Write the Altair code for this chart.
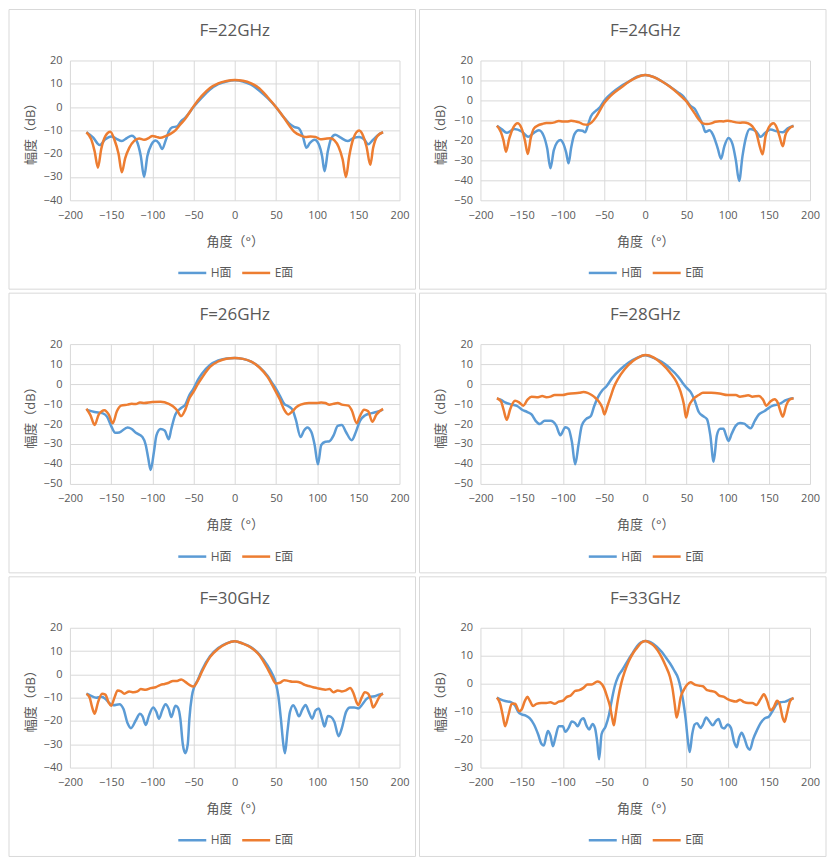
import altair as alt
import pandas as pd

FONT = "'Open Sans', 'Noto Sans CJK SC'"
TEXT = "#595959"
GRID = "#D9D9D9"
SERIES = ["H面", "E面"]
COLORS = ["#5B9BD5", "#ED7D31"]
X_TICKS = [-200, -150, -100, -50, 0, 50, 100, 150, 200]
X_TITLE = "角度（°）"
Y_TITLE = "幅度（dB）"

# ---------------- F=22GHz ----------------
H22 = [(-180, -10.8), (-172, -13), (-164, -16.3), (-157, -13.8), (-150, -12.6), (-144, -13.5),
       (-137, -14.6), (-131, -13.3), (-125, -12.3), (-119, -14.5), (-114, -21), (-110, -30),
       (-106, -21), (-101, -16), (-96, -14.3), (-92, -15.5), (-88, -18), (-84, -14.5), (-80, -10.5),
       (-76, -8.7), (-70, -8.3), (-65, -6), (-60, -4.5), (-50, 0), (-40, 4), (-30, 7.5), (-20, 9.8),
       (-10, 11), (0, 11.5), (10, 11), (20, 9.6), (30, 7), (40, 3.8), (50, 0), (60, -4.6), (66, -7),
       (72, -8.5), (78, -9.2), (83, -13), (87, -17.5), (91, -15.5), (97, -14), (102, -16), (106, -21),
       (109, -27.5), (113, -19), (117, -13.5), (122, -11.9), (128, -13), (137, -14.6), (144, -13.3),
       (151, -12.8), (157, -13.8), (162, -16), (168, -14), (174, -12), (180, -10.8)]
E22 = [(-180, -10.8), (-174, -14), (-170, -19), (-166, -26), (-162, -18), (-157, -12.5), (-151, -10.6),
       (-146, -14), (-141, -20), (-137, -28), (-133, -22), (-128, -17.5), (-122, -14.5), (-116, -13.5),
       (-110, -14), (-104, -13.2), (-100, -12.4), (-95, -12.8), (-90, -13.2), (-84, -12.5), (-78, -11.5),
       (-72, -10), (-66, -7.5), (-60, -5), (-50, 0.3), (-40, 4.8), (-30, 8.2), (-20, 10.2), (-10, 11.2),
       (0, 11.6), (10, 11.3), (20, 10.2), (30, 8), (40, 4.2), (50, 0), (60, -4.7), (66, -7.8), (72, -10.5),
       (80, -12.2), (86, -12.8), (92, -12.6), (98, -12.8), (104, -13.8), (110, -13.6), (116, -13.4),
       (121, -14.3), (126, -17), (131, -22.5), (135, -30), (139, -21), (144, -13.5), (151, -10.1),
       (156, -12.5), (160, -17), (164.5, -24.8), (168, -17.5), (173, -12.5), (180, -10.8)]

# ---------------- F=24GHz ----------------
H24 = [(-180, -12.7), (-174, -14.5), (-168, -16.2), (-159, -14.3), (-150, -15.5), (-142, -18.2),
       (-136, -16.5), (-129, -15), (-123, -18), (-119, -24), (-115, -34), (-111, -25), (-107, -21),
       (-103, -19.8), (-99, -22), (-96, -26), (-93, -31.5), (-90, -24), (-86, -17), (-81, -15),
       (-76, -15.2), (-73, -16), (-70, -13), (-66, -8), (-60, -5.2), (-55, -3.5), (-50, -0.3), (-45, 2),
       (-40, 3.9), (-30, 7), (-20, 9.4), (-10, 11.9), (0, 12.7), (10, 11.8), (20, 9.6), (30, 7), (40, 4),
       (45, 2.5), (50, 0), (55, -2.8), (60, -4.2), (65, -8), (70, -12.5), (73, -15.8), (78, -15),
       (82, -17), (88, -24), (92, -29.2), (96, -23), (101, -18.8), (106, -22), (110, -30), (114, -40.3),
       (118, -28), (122, -19), (127, -14.3), (134, -15.3), (140, -18.2), (145, -16.5), (152, -14.6),
       (160, -15.5), (167, -16), (173, -14), (180, -12.7)]
E24 = [(-180, -12.7), (-175, -16), (-172, -20), (-169, -25.7), (-165, -19), (-160, -13.5), (-155, -11.4),
       (-150, -14), (-146, -20), (-142.5, -26.8), (-139, -19), (-135, -14), (-130, -12.5), (-125, -11.8),
       (-120, -11.3), (-115, -11.3), (-110, -11), (-105, -10.3), (-100, -10.6), (-95, -10.6), (-90, -10.2),
       (-85, -10.5), (-80, -11), (-75, -12), (-70, -12.2), (-65, -11), (-60, -8.5), (-55, -5), (-50, -1.5),
       (-45, 1), (-40, 3), (-30, 6.2), (-20, 9.3), (-10, 11.6), (0, 12.7), (10, 11.7), (20, 9.6), (30, 6.8),
       (40, 3.4), (45, 1.5), (50, -0.5), (55, -3.5), (60, -6.5), (65, -9.5), (70, -11.5), (75, -11.8),
       (80, -11.5), (85, -10.7), (90, -10.4), (95, -10.5), (100, -10.2), (105, -10.5), (110, -11),
       (115, -11.2), (120, -11), (125, -11.5), (130, -13), (135, -16.5), (139, -23), (142.5, -27),
       (146, -18), (150, -13.5), (155.5, -11.4), (160, -14), (163, -18), (167, -23), (170, -17.5),
       (175, -14), (180, -12.8)]

# ---------------- F=26GHz ----------------
H26 = [(-180, -12.8), (-170, -14), (-160, -14.7), (-155, -16.3), (-150, -20.9), (-145, -24.4),
       (-140, -24.2), (-130, -21.7), (-125, -22.5), (-120, -24.4), (-112, -26.5), (-108, -30.5),
       (-105, -37), (-102, -43), (-98, -33.8), (-95, -25.7), (-90, -22.5), (-85, -23.3), (-80, -27.6),
       (-77, -22.5), (-72, -15.2), (-65, -12), (-60, -10.3), (-55, -5.5), (-50, -2.3), (-45, 1.8),
       (-40, 5), (-30, 9.5), (-20, 11.8), (-10, 12.8), (0, 13.1), (10, 12.6), (20, 11.2), (30, 8.5),
       (40, 4), (45, 0.8), (50, -2.3), (55, -6), (60, -9.9), (65, -11.1), (70, -12.8), (74, -17.6),
       (80, -26.5), (84, -23.3), (88, -21.7), (93, -24), (97, -30.5), (101, -40.2), (105, -30.5),
       (110, -28.9), (115, -28.6), (120, -25.7), (125, -20.9), (130, -20.5), (135, -24), (142, -28.1),
       (147, -24), (152, -18.4), (158, -15.7), (165, -14.7), (172, -14), (180, -12.8)]
E26 = [(-180, -12.4), (-175, -15.7), (-170, -20.5), (-165, -15.2), (-158, -13.1), (-153, -15.2),
       (-148, -19.6), (-143, -13.6), (-138, -10.8), (-130, -10.3), (-125, -9.9), (-120, -10), (-115, -9.2),
       (-110, -9.5), (-100, -9), (-90, -8.9), (-80, -9.9), (-75, -11.1), (-70, -13.1), (-65, -16),
       (-60, -12.8), (-55, -7.1), (-50, -3.9), (-45, -0.2), (-40, 3), (-30, 8.6), (-20, 11.3), (-10, 12.7),
       (0, 13), (10, 12.6), (20, 11.2), (30, 8.3), (40, 3.5), (45, 0), (50, -3.9), (55, -7.9), (60, -12.8),
       (65, -15.2), (70, -13.6), (75, -11.5), (80, -10.3), (90, -9.5), (100, -9.5), (105, -9.2),
       (110, -9.5), (115, -10.3), (120, -9.9), (125, -9.5), (130, -10.3), (138, -10.8), (142, -13.1),
       (148, -19.6), (152, -16), (157, -12.8), (162, -13.6), (167, -18.9), (172, -15.2), (180, -12.4)]

# ---------------- F=28GHz ----------------
H28 = [(-180, -7.3), (-175, -7.9), (-170, -9.2), (-162, -10.3), (-155, -11.1), (-150, -12.7), (-143, -14),
       (-138, -15.2), (-133, -18.4), (-128, -20), (-122, -18.4), (-115, -18.4), (-108, -20.8),
       (-103, -25.6), (-97, -21.6), (-93, -22.4), (-89, -28.9), (-85, -40.2), (-81, -30.5), (-77, -20.8),
       (-72, -17.6), (-66, -16), (-62, -11.1), (-57, -6.3), (-52, -3.1), (-47, -1.1), (-40, 3.1),
       (-30, 7.4), (-20, 10.8), (-10, 13.1), (0, 14.4), (10, 13.1), (20, 11.1), (30, 7.9), (40, 3.7),
       (45, 0.8), (50, -1.8), (55, -3.9), (60, -8.2), (65, -14), (70, -16), (75, -17.6), (79, -25.6),
       (83, -38.9), (87, -25.6), (91, -22.4), (95, -22.4), (98, -25.6), (101, -28.5), (105, -24.8),
       (110, -20.8), (115, -19.5), (120, -19.8), (124, -21.1), (128, -22.1), (133, -18.4), (138, -15.2),
       (145, -13.5), (150, -11.9), (155, -10.8), (160, -10.3), (165, -9.5), (170, -8.2), (175, -7.4),
       (180, -7.1)]
E28 = [(-180, -7.1), (-175, -8.7), (-172, -12.7), (-168, -17.9), (-164, -12.7), (-158, -8.4), (-153, -9.2),
       (-148, -10.8), (-143, -7.9), (-138, -6.3), (-130, -6.6), (-125, -6), (-120, -6.6), (-115, -6.3),
       (-110, -5.5), (-100, -5.5), (-95, -5), (-90, -4.7), (-80, -4.4), (-75, -4), (-70, -4.4), (-65, -5.5),
       (-60, -7.1), (-55, -9.5), (-52, -11.9), (-49.5, -15.2), (-46, -11.1), (-42, -6.3), (-38, -1.5),
       (-33, 2.6), (-25, 7.4), (-15, 11.5), (-8, 13.4), (0, 14.5), (10, 13.4), (20, 10.2), (30, 5.8),
       (38, 1), (43, -3.9), (47, -10.3), (49.5, -16.8), (53, -11.1), (58, -7.6), (65, -5.5), (70, -4.4),
       (80, -4.4), (90, -4.7), (100, -5.5), (110, -5.5), (115, -6.3), (120, -6), (125, -5.6), (130, -6.3),
       (138, -6), (143, -7.9), (147, -10.8), (152, -8.7), (157, -7.6), (161, -9.5), (164, -13.5),
       (167, -16.3), (171, -10.8), (175, -7.9), (180, -7.1)]

# ---------------- F=30GHz ----------------
H30 = [(-180, -8.3), (-175, -9.1), (-168, -10), (-162, -9.6), (-157, -10.5), (-152, -12.4), (-147, -13.2),
       (-140, -12.8), (-135, -14.9), (-130, -21), (-126, -23.1), (-120, -19.7), (-115, -16.9),
       (-112, -17.9), (-108, -21.7), (-104, -17.6), (-99, -14.2), (-95, -16.2), (-92, -19), (-88, -15.5),
       (-84, -12.8), (-80, -14.9), (-77, -18.3), (-72, -13.5), (-69, -14.2), (-66, -19), (-63, -30),
       (-60, -33.8), (-57, -30), (-55, -19), (-52, -9.4), (-49, -5.2), (-45, -2.5), (-40, 1.7), (-30, 7.8),
       (-20, 11.3), (-10, 13.3), (0, 14.2), (10, 13.2), (20, 11.6), (30, 8.5), (40, 3.7), (45, 0.6),
       (50, -3.9), (53, -9.4), (56, -19), (59, -30), (61, -33.8), (64, -24.5), (67, -16.2), (71, -13.2),
       (74, -14.9), (78, -18), (82, -15.1), (86, -13.1), (90, -16.2), (94, -19), (98, -15.5), (102, -14.6),
       (106, -19), (109, -22.4), (113, -17.9), (117, -18.3), (121, -20.4), (126, -26.5), (130, -23.1),
       (135, -16.2), (140, -14.2), (145, -14.2), (150, -14.6), (155, -12.8), (160, -10.5), (165, -9.6),
       (170, -9.4), (175, -8.7), (180, -8.3)]
E30 = [(-180, -8.3), (-176, -10), (-173, -14.2), (-170, -16.9), (-166, -12.1), (-161, -8.3), (-157, -8.7),
       (-153, -12.1), (-150, -13.5), (-146, -10), (-142, -6.9), (-138, -7.3), (-134, -8.3), (-128, -7.3),
       (-123, -7.7), (-118, -7.3), (-114, -6.3), (-108, -6.6), (-102, -5.9), (-96, -5.5), (-90, -4.5),
       (-85, -4.1), (-80, -3.6), (-75, -2.8), (-70, -2.8), (-65, -2.2), (-60, -3.2), (-55, -4.5),
       (-50, -5.2), (-45, -2.8), (-40, 1), (-30, 7.4), (-20, 11), (-10, 13.2), (0, 14.2), (10, 13.2),
       (20, 11.4), (30, 8.2), (40, 2.3), (45, -1.1), (50, -3.9), (55, -3.6), (60, -2.5), (65, -2.8),
       (70, -3.2), (75, -3.2), (80, -3.6), (85, -4.5), (90, -5), (95, -5.5), (100, -5.9), (105, -6.3),
       (110, -6.6), (115, -6.3), (120, -7.7), (125, -6.9), (130, -7.3), (135, -6.9), (140, -5.9),
       (144, -8), (148, -12.1), (150, -13.2), (154, -10), (158, -7.7), (162, -8.3), (165, -10.7),
       (168, -14.2), (172, -12.1), (176, -9.4), (180, -8.3)]

# ---------------- F=33GHz ----------------
H33 = [(-180, -5), (-175, -5.7), (-170, -6.2), (-163, -6.6), (-158, -7.8), (-154, -10.1), (-150, -11),
       (-145, -11.4), (-140, -12.4), (-135, -14.6), (-130, -18.1), (-126, -21.5), (-123, -22.1),
       (-120, -18.6), (-118, -16.9), (-115, -18.6), (-112, -22.4), (-109, -19.2), (-105, -15.2),
       (-100, -15.2), (-97, -17.2), (-93, -15.8), (-89, -13.5), (-85, -14.1), (-82, -15.2), (-78, -13),
       (-75, -12.4), (-71, -15.2), (-68, -16.4), (-64, -14.4), (-61, -15.8), (-58, -21.5), (-56, -27),
       (-53, -18.1), (-48, -15.2), (-44, -11.2), (-40, -4.9), (-37, -0.9), (-33, 2.5), (-28, 4.8),
       (-20, 8.8), (-15, 11.1), (-10, 13.4), (-5, 14.8), (0, 15.3), (5, 15), (10, 14.2), (20, 11.4),
       (25, 9.4), (30, 7.3), (35, 4.8), (40, 1.9), (43, -1.5), (46, -6.1), (49, -12.4), (52, -20.9),
       (54, -24.4), (57, -18.1), (60, -14.6), (63, -14.1), (67, -15.8), (70, -14.6), (74, -12.1),
       (78, -13.5), (82, -14.9), (86, -13.3), (89, -12.6), (93, -15.6), (96, -16), (100, -14.6),
       (104, -15.8), (108, -20.9), (111, -22.7), (114, -19.2), (117, -17.5), (120, -19.2), (124, -22.7),
       (127, -23.6), (131, -19.8), (136, -16.4), (140, -14.1), (145, -12.4), (150, -11.8), (155, -9.5),
       (160, -7.2), (165, -6.6), (170, -6.4), (175, -5.7), (180, -5.3)]
E33 = [(-180, -5), (-176, -7.2), (-173, -11.2), (-170, -15.2), (-166, -11.2), (-162, -7.2), (-158, -7.2),
       (-153, -9.8), (-150, -9.2), (-146, -6.1), (-143, -4.7), (-140, -6.1), (-136, -8), (-132, -7.2),
       (-126, -6.9), (-120, -6.9), (-115, -6.6), (-110, -7.2), (-105, -6.4), (-100, -6.1), (-96, -4.9),
       (-90, -4.1), (-85, -2.6), (-80, -2.3), (-75, -1.5), (-70, -0.3), (-65, -0.3), (-58, 0.8),
       (-55, 0.5), (-50, -1.5), (-46, -4.9), (-43, -7.8), (-40, -12.4), (-38, -14.9), (-36, -11.2),
       (-33, -5.5), (-29, 0.2), (-25, 4.2), (-20, 8), (-15, 10.8), (-10, 12.8), (-5, 14.6), (0, 15.3),
       (5, 14.7), (10, 13.7), (20, 9.4), (25, 6.2), (30, 2.5), (33, -1.5), (36, -7.8), (38, -12.1),
       (40, -10.1), (43, -4.9), (47, -2.1), (51, -0.3), (55, 0.5), (60, -0.3), (65, -0.7), (70, -0.9),
       (75, -2.3), (80, -2.6), (85, -3), (90, -4.3), (95, -4.6), (100, -5.5), (105, -6.1), (110, -6.4),
       (115, -5.7), (120, -6.6), (125, -6.9), (130, -6.9), (135, -7.6), (140, -5.5), (144, -3.8),
       (148, -6.1), (152, -9.5), (156, -8.4), (160, -6.1), (163, -7.2), (167, -12.4), (169, -13.7),
       (172, -10.6), (176, -6.1), (180, -5.1)]

PANELS = [
    ("F=22GHz", -40, H22, E22),
    ("F=24GHz", -50, H24, E24),
    ("F=26GHz", -50, H26, E26),
    ("F=28GHz", -50, H28, E28),
    ("F=30GHz", -40, H30, E30),
    ("F=33GHz", -30, H33, E33),
]

# panel geometry (pixels)
PW, PH = 407, 280
L, T = 61, 51
W, H = 330, 140

AX = dict(grid=True, gridColor=GRID, gridWidth=1, domain=False, ticks=False, tickSize=0,
          labelColor=TEXT, labelFont=FONT, labelFontSize=11, labelFlush=False, labelOverlap=False,
          titleColor=TEXT, titleFont=FONT, titleFontSize=13, titleFontWeight="normal")


def make_panel(title, ymin, hdata, edata):
    rows = [{"angle": a, "db": d, "series": SERIES[0]} for a, d in hdata]
    rows += [{"angle": a, "db": d, "series": SERIES[1]} for a, d in edata]
    df = pd.DataFrame(rows)
    yticks = list(range(ymin, 21, 10))

    lines = alt.Chart(df).mark_line(interpolate="monotone", strokeWidth=2.5).encode(
        x=alt.X("angle:Q", scale=alt.Scale(domain=[-200, 200], nice=False, zero=False),
                axis=alt.Axis(values=X_TICKS, title=X_TITLE, labelPadding=9, titlePadding=15, **AX)),
        y=alt.Y("db:Q", scale=alt.Scale(domain=[ymin, 20], nice=False, zero=False),
                axis=alt.Axis(values=yticks, title=Y_TITLE, labelPadding=8, titlePadding=6, **AX)),
        color=alt.Color("series:N", title=None,
                        scale=alt.Scale(domain=SERIES, range=COLORS),
                        legend=alt.Legend(orient="none", legendX=107, legendY=197,
                                          direction="horizontal", symbolType="stroke",
                                          symbolSize=784, symbolStrokeWidth=2.5,
                                          labelFont=FONT, labelFontSize=12, labelColor=TEXT,
                                          labelOffset=3, columnPadding=5, padding=0)),
    )
    one = pd.DataFrame({"k": [0]})
    frame = alt.Chart(one).mark_rect(filled=False, stroke=GRID, strokeWidth=1).encode(
        x=alt.value(-L), x2=alt.value(PW - L), y=alt.value(-T), y2=alt.value(PH - T))
    head = alt.Chart(one).mark_text(font=FONT, fontSize=17, color=TEXT, align="center",
                                    baseline="middle").encode(
        x=alt.value(W / 2), y=alt.value(-29), text=alt.value(title))
    return alt.layer(frame, lines, head).properties(width=W, height=H)


panels = [make_panel(*p) for p in PANELS]
rows = [
    alt.hconcat(panels[i], panels[i + 1], spacing=2)
    .resolve_scale(color="independent").resolve_legend(color="independent")
    for i in (0, 2, 4)
]
chart = (
    alt.vconcat(*rows, spacing=2)
    .resolve_scale(color="independent").resolve_legend(color="independent")
    .properties(padding=0)
    .configure_view(strokeWidth=0)
)

chart.save("out.html", embed_options={"renderer": "svg", "actions": False})
